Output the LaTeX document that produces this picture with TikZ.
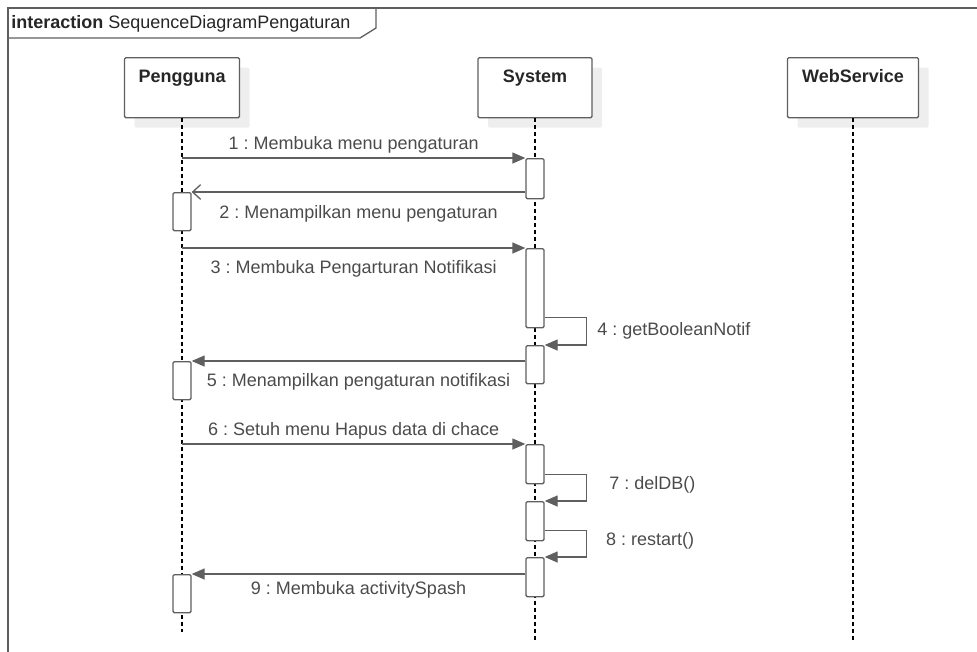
\documentclass[tikz,border=0pt]{standalone}
\usepackage{fontspec}
\setmainfont{Liberation Sans}
\usetikzlibrary{arrows.meta,shadows,calc}
\frenchspacing

\definecolor{lineclr}{RGB}{95,95,95}
\definecolor{txtclr}{RGB}{75,75,75}
\definecolor{shadeclr}{RGB}{238,238,238}

\tikzset{
  headbox/.style={draw=lineclr, line width=1pt, fill=white, rounded corners=1pt,
    inner sep=0pt, anchor=north, text height=18.75pt, text depth=26.25pt,
    font=\fontsize{13.5pt}{16pt}\selectfont\bfseries, text=black!85,
    drop shadow={shadow xshift=7.5pt, shadow yshift=-7.5pt, fill=shadeclr, opacity=1}},
  actbar/.style={draw=lineclr, line width=1pt, fill=white, rounded corners=1pt,
    minimum width=13.5pt, inner sep=0pt, anchor=north},
  lifeline/.style={line width=0.9pt, dash pattern=on 3pt off 2.25pt},
  msg/.style={draw=lineclr, line width=1pt, -{Triangle[length=9.75pt,width=8.25pt]}},
  reply/.style={draw=lineclr, line width=1pt, -{Straight Barb[length=6pt,width=11pt]}},
  msgtext/.style={text=txtclr, inner sep=0pt, text height=10pt, text depth=3pt}
}

\begin{document}
\begin{tikzpicture}[x=0.75pt, y=-0.75pt, font=\fontsize{13.5pt}{16pt}\selectfont]
  \useasboundingbox (0,0) rectangle (977,651);
  \clip (0,0) rectangle (977,651);

  % frame and tab
  \draw[lineclr, line width=1pt] (8,660) -- (8,8) -- (990,8);
  \draw[lineclr, line width=1pt] (8,38) -- (360,38) -- (376,28) -- (376,8);
  \node[anchor=base west, inner sep=0pt, text=black!85] (title) at (11,28)
    {\textbf{interaction} SequenceDiagramPengaturan};

  % lifeline heads
  \node[headbox, minimum width=86.25pt] (pg) at (182,57) {Pengguna};
  \node[headbox, minimum width=85.5pt] (sys) at (535,57) {System};
  \node[headbox, minimum width=98.25pt] (ws) at (853,57) {WebService};

  \coordinate (pgend) at (182,632);
  \coordinate (sysend) at (535,640);
  \coordinate (wsend) at (853,640);
  \draw[lifeline] (pg) -- (pgend);
  \draw[lifeline] (sys) -- (sysend);
  \draw[lifeline] (ws) -- (wsend);

  % activations
  \node[actbar, minimum height={(198-158)*0.75pt}] (s1) at (535,158) {};
  \node[actbar, minimum height={(327-248)*0.75pt}] (s2) at (535,248) {};
  \node[actbar, minimum height={(383-345)*0.75pt}] (s3) at (535,345) {};
  \node[actbar, minimum height={(483-444)*0.75pt}] (s4) at (535,444) {};
  \node[actbar, minimum height={(540-501)*0.75pt}] (s5) at (535,501) {};
  \node[actbar, minimum height={(596-557)*0.75pt}] (s6) at (535,557) {};
  \node[actbar, minimum height={(230-192)*0.75pt}] (p1) at (182,192) {};
  \node[actbar, minimum height={(399-361)*0.75pt}] (p2) at (182,361) {};
  \node[actbar, minimum height={(612-574)*0.75pt}] (p3) at (182,574) {};

  % messages
  \draw[msg] (pg |- s1.north) -- (s1.north west)
    node[msgtext, midway, above=3pt] {1 : Membuka menu pengaturan};
  \draw[reply] (s1.west |- p1.north) -- (p1.north east)
    node[msgtext, midway, below=9pt] {2 : Menampilkan menu pengaturan};
  \draw[msg] (pg |- s2.north) -- (s2.north west)
    node[msgtext, midway, below=8.25pt] {3 : Membuka Pengarturan Notifikasi};
  \draw[msg] ($(s2.south east)+(0,-11)$) -- ++(42,0) |- (s3.north east)
    node[msgtext, pos=0.25, right=7.5pt] {4 : getBooleanNotif};
  \draw[msg] (s3.west |- p2.north) -- (p2.north east)
    node[msgtext, midway, below=8.5pt] {5 : Menampilkan pengaturan notifikasi};
  \draw[msg] (pg |- s4.north) -- (s4.north west)
    node[msgtext, midway, above=3pt] {6 : Setuh menu Hapus data di chace};
  \draw[msg] ($(s4.south east)+(0,-10)$) -- ++(42,0) |- (s5.north east)
    node[msgtext, pos=0.25, right=16.5pt, yshift=2pt] {7 : delDB()};
  \draw[msg] ($(s5.south east)+(0,-11)$) -- ++(42,0) |- (s6.north east)
    node[msgtext, pos=0.25, right=14pt, yshift=2pt] {8 : restart()};
  \draw[msg] (s6.west |- p3.north) -- (p3.north east)
    node[msgtext, midway, below=5pt] {9 : Membuka activitySpash};
\end{tikzpicture}
\end{document}
